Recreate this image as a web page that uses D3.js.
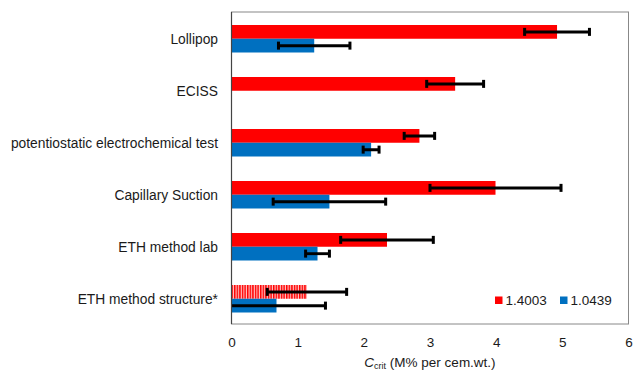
<!DOCTYPE html>
<html><head><meta charset="utf-8">
<script src="https://cdn.jsdelivr.net/npm/d3@7"></script>
<style>
body{margin:0;background:#fff;}
text{font-family:"Liberation Sans",Arial,sans-serif;fill:#1a1a1a;}
</style></head>
<body><svg id="c" width="635" height="371"></svg>
<script>
const categories = ["Lollipop","ECISS","potentiostatic electrochemical test","Capillary Suction","ETH method lab","ETH method structure*"];
const seriesNames = ["1.4003","1.0439"];
const redValues = [4.92, 3.38, 2.84, 3.99, 2.35, 1.14];
const redErrors = [0.49, 0.43, 0.23, 0.99, 0.70, 0.60];
const blueValues = [1.25, null, 2.11, 1.48, 1.30, 0.68];
const blueErrors = [0.54, null, 0.12, 0.85, 0.18, 0.74];
const hatchedCategories = ["ETH method structure*"];
const xTicks = [0,1,2,3,4,5,6];

const colors = {"1.4003":"#ff0000","1.0439":"#0070c0"};
const svg = d3.select("#c");
const L=231.5, R=628.5, T=12, B=324;
const x = d3.scaleLinear().domain([0,6]).range([L,R]);
const y = d3.scaleBand().domain(categories).range([T,B]);
const ys = d3.scaleBand().domain(seriesNames).range([13,40.5]);

const defs = svg.append("defs");
const pat = defs.append("pattern").attr("id","hatch").attr("patternUnits","userSpaceOnUse").attr("width",2.6).attr("height",4);
pat.append("rect").attr("width",2.6).attr("height",4).attr("fill","#ffc8c8");
pat.append("rect").attr("width",1.5).attr("height",4).attr("fill","#ff0000");
defs.append("clipPath").attr("id","clip").append("rect").attr("x",L).attr("y",T).attr("width",R-L).attr("height",B-T);

const data = [];
categories.forEach((c,i)=>{
  if(redValues[i]!=null) data.push({c,s:"1.4003",v:redValues[i],e:redErrors[i]});
  if(blueValues[i]!=null) data.push({c,s:"1.0439",v:blueValues[i],e:blueErrors[i]});
});

// frame
svg.append("rect").attr("x",L).attr("y",T).attr("width",R-L).attr("height",B-T)
  .attr("fill","none").attr("stroke","#888").attr("stroke-width",1);

const g = svg.append("g");
g.selectAll("rect.bar").data(data).join("rect").attr("class","bar")
  .attr("x",x(0)).attr("y",d=>y(d.c)+ys(d.s)).attr("width",d=>x(d.v)-x(0)).attr("height",ys.bandwidth())
  .attr("fill",d=>(d.s==="1.4003" && hatchedCategories.includes(d.c))?"url(#hatch)":colors[d.s]);

const eg = svg.append("g").attr("clip-path","url(#clip)");
data.forEach(d=>{
  const cy = y(d.c)+ys(d.s)+ys.bandwidth()/2;
  const lo = Math.max(0,d.v-d.e), hi=d.v+d.e;
  eg.append("line").attr("x1",x(lo)).attr("x2",x(hi)).attr("y1",cy).attr("y2",cy).attr("stroke","#000").attr("stroke-width",3);
  [d.v-d.e, hi].forEach(v=>{
    eg.append("rect").attr("x",x(v)-1.5).attr("y",cy-4).attr("width",3).attr("height",8).attr("fill","#000");
  });
});

// left axis line
svg.append("line").attr("x1",L).attr("x2",L).attr("y1",T).attr("y2",B).attr("stroke","#444").attr("stroke-width",1.2);

// category labels
svg.append("g").selectAll("text").data(categories).join("text")
  .attr("x",218).attr("y",d=>y(d)+y.bandwidth()/2+1).attr("dy","0.35em")
  .attr("text-anchor","end").attr("font-size",13.8).text(d=>d);

// x axis
const xa = svg.append("g").attr("transform",`translate(0,${B})`)
  .call(d3.axisBottom(x).tickValues(xTicks).tickSize(0).tickPadding(13).tickFormat(d3.format("d")));
xa.select(".domain").remove();
xa.selectAll("text").attr("font-size",13.5).attr("font-family","Liberation Sans, Arial, sans-serif").attr("fill","#1a1a1a");

// axis title
const tt = svg.append("text").attr("x",430).attr("y",367).attr("text-anchor","middle").attr("font-size",13.5);
tt.append("tspan").attr("font-style","italic").text("C");
tt.append("tspan").attr("font-size",9).attr("dy",2).text("crit");
tt.append("tspan").attr("dy",-2).text(" (M% per cem.wt.)");

// legend
const lg = svg.append("g");
const lx = [495, 560];
seriesNames.forEach((s,i)=>{
  lg.append("rect").attr("x",lx[i]).attr("y",296.5).attr("width",7.5).attr("height",7.5).attr("fill",colors[s]);
  lg.append("text").attr("x",lx[i]+10.5).attr("y",300.5).attr("dy","0.35em").attr("font-size",13.5).text(s);
});
</script></body></html>
